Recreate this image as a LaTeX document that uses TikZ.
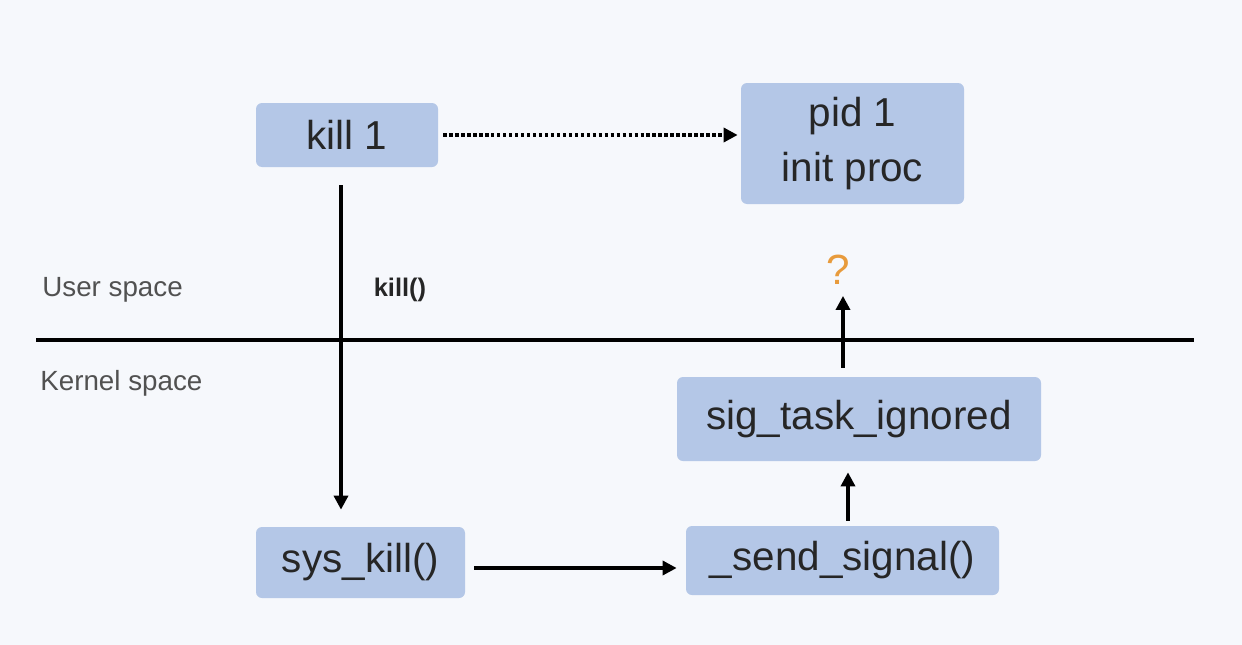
\documentclass[tikz,border=0pt]{standalone}
\usepackage{fontspec}
\setmainfont{Liberation Sans}
\usepackage{xcolor}
\usepackage{tikz}
\usetikzlibrary{arrows.meta,positioning}

\definecolor{pagebg}{HTML}{F6F8FC}
\definecolor{boxblue}{HTML}{B4C7E7}
\definecolor{inktext}{HTML}{262626}
\definecolor{askorange}{HTML}{E89B3C}

\begin{document}
\begin{tikzpicture}[
    box/.style={
        fill=boxblue,
        rounded corners=0.12cm,
        align=center,
        text=inktext,
        font=\fontsize{23}{31}\selectfont,
        inner sep=0pt
    },
    spacelabel/.style={text=inktext!80, font=\fontsize{15.8}{18}\selectfont, anchor=west, inner sep=0pt},
    arrow/.style={-{Triangle[length=2.8mm,width=2.8mm]}, line width=1.9pt},
    dotarrow/.style={arrow, dash pattern=on 1.9pt off 1.5pt}
]
% background and size
\fill[pagebg] (0,0) rectangle (24.84,-12.9);
\useasboundingbox (0,0) rectangle (24.84,-12.9);

% user side
\node[box, minimum width=3.64cm, minimum height=1.28cm] (kill1) at (6.94,-2.70) {kill 1};
\node[box, minimum width=4.46cm, minimum height=2.42cm] (pid1) at (17.05,-2.87) {pid 1\\init proc};
\node[text=askorange, font=\fontsize{24}{28}\selectfont] (ask) at (16.76,-5.40) {?};

% kernel side
\node[box, minimum width=7.28cm, minimum height=1.68cm] (ignored) at (17.18,-8.38) {sig\_task\_ignored};
\node[box, minimum width=4.18cm, minimum height=1.42cm] (syskill) at (7.21,-11.25) {sys\_kill()};
\node[box, minimum width=6.26cm, minimum height=1.38cm] (sendsig) at (16.85,-11.21) {\_send\_signal()};

% boundary
\coordinate (lineL) at (0.72,-6.80);
\coordinate (lineR) at (23.88,-6.80);
\draw[line width=2pt] (lineL) -- (lineR);
\node[spacelabel] (userlbl) at (0.84,-5.80) {User space};
\node[spacelabel] (kernlbl) at (0.80,-7.66) {Kernel space};
\node[text=inktext, font=\bfseries\fontsize{14.5}{18}\selectfont] (killcall) at (8.0,-5.80) {kill()};

\draw[dotarrow, shorten <=0.1cm, shorten >=0.06cm] (kill1.east) -- (kill1.east -| pid1.west);
\draw[arrow, shorten <=0.36cm, shorten >=0.34cm] ([xshift=-0.12cm]kill1.south) -- ([xshift=-0.12cm]kill1.south |- syskill.north);
\draw[arrow, shorten <=0.18cm, shorten >=0.18cm] ([yshift=-0.11cm]syskill.east) -- ([yshift=-0.11cm]syskill.east -| sendsig.west);
\draw[arrow, shorten <=0.1cm, shorten >=0.22cm] ([xshift=0.11cm]sendsig.north) -- ([xshift=0.11cm]sendsig.north |- ignored.south);
\draw[arrow, shorten <=0.18cm, shorten >=0.1cm] ([xshift=-0.32cm]ignored.north) -- ([xshift=-0.32cm]ignored.north |- ask.south);
\end{tikzpicture}
\end{document}
